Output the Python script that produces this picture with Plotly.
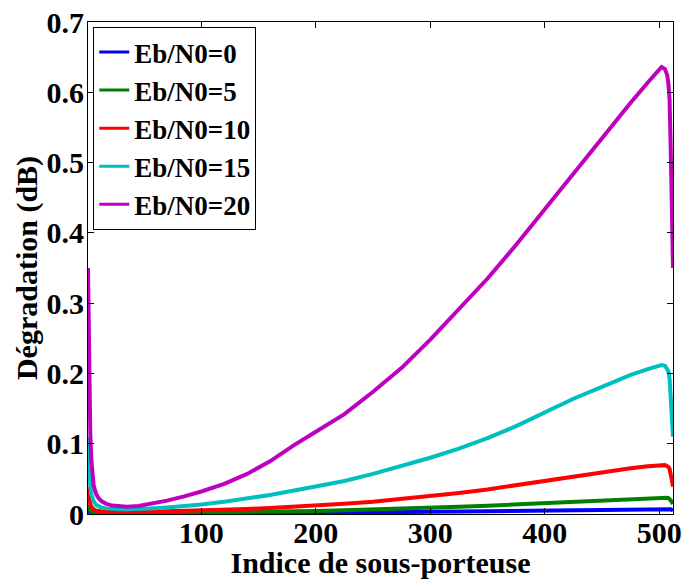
import plotly.graph_objects as go

# Subcarrier index sample points
x_idx = [1, 2, 3, 4, 5, 6, 8, 10, 13, 17, 22, 28, 35, 45, 55, 70, 85, 100, 120,
         140, 160, 180, 200, 225, 250, 275, 300, 325, 350, 375, 400, 425, 450,
         475, 490, 498, 502, 505, 507, 508, 509, 510, 511, 512]

deg_0 = [0.0045, 0.003, 0.002, 0.0015, 0.0012, 0.001, 0.0008, 0.0007, 0.0006,
         0.0005, 0.0004, 0.0004, 0.0004, 0.0004, 0.0004, 0.0005, 0.0006, 0.0007,
         0.0008, 0.0009, 0.0011, 0.0013, 0.0015, 0.0018, 0.0021, 0.0025, 0.003,
         0.0034, 0.0039, 0.0045, 0.0052, 0.0058, 0.0065, 0.0071, 0.0075, 0.0077,
         0.0078, 0.0078, 0.0077, 0.0076, 0.0073, 0.0067, 0.0058, 0.0048]

deg_5 = [0.013, 0.008, 0.005, 0.0035, 0.003, 0.0025, 0.002, 0.0017, 0.0015,
         0.0013, 0.0012, 0.0011, 0.0011, 0.0011, 0.0012, 0.0014, 0.0016, 0.0019,
         0.0023, 0.0027, 0.0032, 0.0038, 0.0044, 0.0053, 0.0063, 0.0075, 0.0088,
         0.0103, 0.0118, 0.0136, 0.0155, 0.0175, 0.0195, 0.0215, 0.0228, 0.0234,
         0.0235, 0.0234, 0.023, 0.0226, 0.0215, 0.0195, 0.017, 0.0145]

deg_10 = [0.038, 0.022, 0.014, 0.010, 0.008, 0.0065, 0.005, 0.0042, 0.0036,
          0.0032, 0.003, 0.0028, 0.0028, 0.0029, 0.0032, 0.0037, 0.0043, 0.005,
          0.006, 0.0072, 0.0086, 0.0102, 0.012, 0.0145, 0.0175, 0.0212, 0.0255,
          0.030, 0.035, 0.041, 0.048, 0.054, 0.0595, 0.065, 0.068, 0.0695,
          0.0697, 0.0695, 0.068, 0.067, 0.064, 0.058, 0.048, 0.039]

deg_15 = [0.11, 0.065, 0.04, 0.028, 0.022, 0.018, 0.013, 0.011, 0.009, 0.008,
          0.0072, 0.0068, 0.0067, 0.0069, 0.0077, 0.0093, 0.0112, 0.0135, 0.0175,
          0.022, 0.027, 0.033, 0.039, 0.047, 0.057, 0.068, 0.080, 0.093, 0.108,
          0.125, 0.145, 0.164, 0.181, 0.198, 0.206, 0.211, 0.212, 0.211, 0.207,
          0.203, 0.193, 0.170, 0.14, 0.11]

deg_20 = [0.35, 0.20, 0.115, 0.075, 0.052, 0.040, 0.029, 0.023, 0.018, 0.0145,
          0.012, 0.0107, 0.0104, 0.0115, 0.014, 0.019, 0.025, 0.032, 0.043, 0.057,
          0.075, 0.097, 0.117, 0.142, 0.174, 0.208, 0.248, 0.291, 0.335, 0.383,
          0.434, 0.484, 0.535, 0.585, 0.614, 0.630, 0.636, 0.633, 0.624, 0.612,
          0.59, 0.52, 0.42, 0.35]

series_names = ["Eb/N0=0", "Eb/N0=5", "Eb/N0=10", "Eb/N0=15", "Eb/N0=20"]
series_values = [deg_0, deg_5, deg_10, deg_15, deg_20]
colors = ["#0000FF", "#008000", "#FF0000", "#00BFBF", "#BF00BF"]

x_ticks = [100, 200, 300, 400, 500]
y_ticks = [0, 0.1, 0.2, 0.3, 0.4, 0.5, 0.6, 0.7]
y_tick_text = ["0", "0.1", "0.2", "0.3", "0.4", "0.5", "0.6", "0.7"]

FONT = "Liberation Serif"

fig = go.Figure()
for name, vals, col in zip(series_names, series_values, colors):
    fig.add_trace(go.Scatter(x=x_idx, y=vals, mode="lines", name=name,
                             line=dict(color=col, width=4), showlegend=False))
# legend entries (thinner sample lines, as in the reference)
for name, col in zip(series_names, colors):
    fig.add_trace(go.Scatter(x=[None], y=[None], mode="lines", name=name,
                             line=dict(color=col, width=3), showlegend=True))

axis_common = dict(
    showline=True, linecolor="black", linewidth=1, mirror="ticks",
    ticks="inside", ticklen=6, tickcolor="black", tickwidth=1,
    showgrid=False, zeroline=False, automargin=False,
    ticklabeloverflow="allow",
    tickfont=dict(family=FONT, size=30, color="black", weight="bold"),
)

fig.update_layout(
    width=682, height=579,
    margin=dict(l=88, r=9, t=22, b=65),
    paper_bgcolor="white", plot_bgcolor="white",
    xaxis=dict(range=[1, 512], tickvals=x_ticks, ticklabelstandoff=-8,
               title=dict(text="Indice de sous-porteuse", standoff=0,
                          font=dict(family=FONT, size=30, color="black", weight="bold")),
               **axis_common),
    yaxis=dict(range=[0, 0.7], tickvals=y_ticks, ticktext=y_tick_text,
               ticklabelstandoff=-3,
               title=dict(text="Dégradation (dB)", standoff=0,
                          font=dict(family=FONT, size=30, color="black", weight="bold")),
               **axis_common),
    legend=dict(x=0.009, y=0.99, xanchor="left", yanchor="top",
                bgcolor="white", bordercolor="black", borderwidth=1,
                itemwidth=30, tracegroupgap=0,
                font=dict(family=FONT, size=27, color="black", weight="bold")),
)

# remove the default page margin so the figure fills the 682x579 window
fig.write_html("out.html", config={"displayModeBar": False},
               post_script="document.body.style.margin='0';")
